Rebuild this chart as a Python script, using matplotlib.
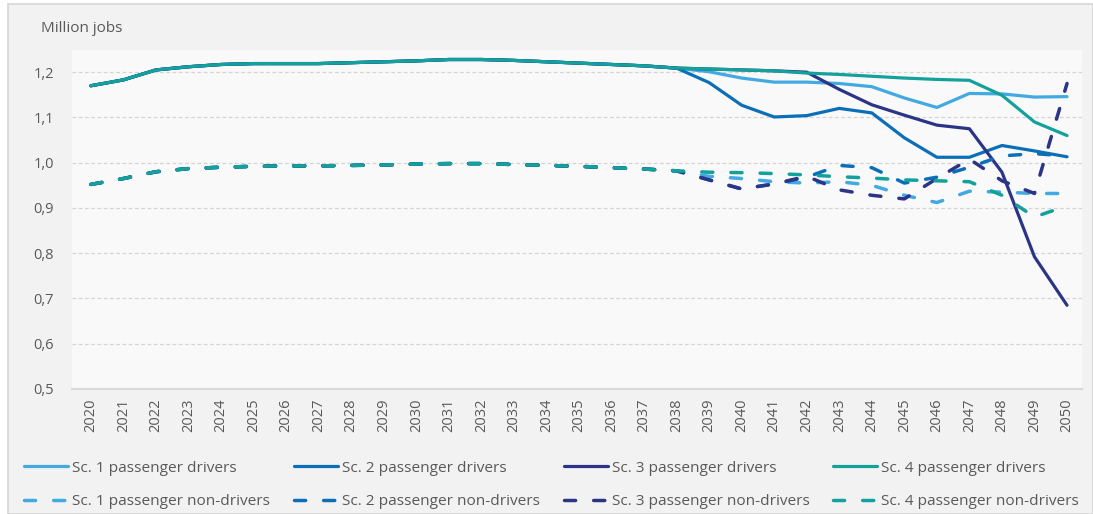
import numpy as np
import matplotlib.pyplot as plt
from matplotlib.patches import Rectangle

# ---------------------------
# Datos (millones de empleos)
# ---------------------------
years = list(range(2020, 2051))

# tramo comun 2020-2038
common_drivers = [1.170, 1.183, 1.205, 1.212, 1.217, 1.219, 1.219, 1.219, 1.221, 1.223,
                  1.225, 1.228, 1.228, 1.226, 1.223, 1.220, 1.217, 1.214, 1.209]
common_non = [0.952, 0.965, 0.980, 0.987, 0.990, 0.992, 0.993, 0.993, 0.994, 0.995,
              0.997, 0.998, 0.998, 0.996, 0.994, 0.992, 0.989, 0.986, 0.982]

# 2039-2050 por escenario
sc1_drivers = common_drivers + [1.201, 1.187, 1.178, 1.178, 1.175, 1.168, 1.143, 1.122, 1.153, 1.152, 1.145, 1.146]
sc2_drivers = common_drivers + [1.177, 1.127, 1.101, 1.104, 1.120, 1.110, 1.055, 1.012, 1.012, 1.038, 1.026, 1.013]
sc3_drivers = common_drivers + [1.207, 1.205, 1.203, 1.200, 1.162, 1.128, 1.105, 1.083, 1.075, 0.979, 0.792, 0.685]
sc4_drivers = common_drivers + [1.207, 1.205, 1.203, 1.198, 1.195, 1.191, 1.187, 1.184, 1.182, 1.149, 1.090, 1.060]

sc1_non = common_non + [0.970, 0.965, 0.958, 0.955, 0.958, 0.950, 0.928, 0.912, 0.937, 0.935, 0.932, 0.932]
sc2_non = common_non + [0.962, 0.942, 0.953, 0.968, 0.994, 0.989, 0.955, 0.968, 0.990, 1.015, 1.020, 1.015]
sc3_non = common_non + [0.962, 0.942, 0.953, 0.970, 0.940, 0.928, 0.920, 0.965, 1.008, 0.960, 0.932, 1.175]
sc4_non = common_non + [0.979, 0.978, 0.976, 0.973, 0.969, 0.966, 0.962, 0.960, 0.958, 0.928, 0.880, 0.905]

labels_drivers = ["Sc. 1 passenger drivers", "Sc. 2 passenger drivers",
                  "Sc. 3 passenger drivers", "Sc. 4 passenger drivers"]
labels_non = ["Sc. 1 passenger non-drivers", "Sc. 2 passenger non-drivers",
              "Sc. 3 passenger non-drivers", "Sc. 4 passenger non-drivers"]
colors = ["#42a9e1", "#0b6fb8", "#2b3486", "#13a19b"]

# ---------------------------
# Figura
# ---------------------------
plt.rcParams['font.family'] = ['Open Sans', 'DejaVu Sans']
W, H = 1093, 514
fig = plt.figure(figsize=(W / 100, H / 100), dpi=100)
fig.patch.set_facecolor("white")
fig.patches.append(Rectangle((8 / W, 0), 1 - 8 / W, 1 - 4 / H, transform=fig.transFigure,
                             facecolor="#f2f2f2", edgecolor="#d6d6d6", lw=1.2, zorder=-10))

ax = fig.add_axes([72 / W, 1 - 389 / H, (1082 - 72) / W, (389 - 50) / H])
ax.set_facecolor("#f9f9f9")

lines_d = []
lines_n = []
for data, lab, c in zip([sc1_drivers, sc2_drivers, sc3_drivers, sc4_drivers], labels_drivers, colors):
    l, = ax.plot(years, data, color=c, lw=2.3, label=lab, solid_capstyle="round")
    lines_d.append(l)
for data, lab, c in zip([sc1_non, sc2_non, sc3_non, sc4_non], labels_non, colors):
    l, = ax.plot(years, data, color=c, lw=2.5, label=lab, linestyle=(0, (3.2, 5.2)),
                 dash_capstyle="round")
    lines_n.append(l)

ax.set_xlim(2019.42, 2050.46)
ax.set_ylim(0.5, 1.249)
ax.set_yticks(np.arange(0.5, 1.21, 0.1))
ax.set_yticklabels([f"{v:.1f}".replace(".", ",") for v in np.arange(0.5, 1.21, 0.1)])
ax.set_xticks(years)
ax.set_xticklabels([str(y) for y in years], rotation=90)
ax.tick_params(axis="y", length=0, pad=13, labelsize=10.5, labelcolor="#595959")
ax.tick_params(axis="x", length=0, pad=7, labelsize=10.5, labelcolor="#595959")

for v in np.arange(0.6, 1.21, 0.1):
    ax.axhline(v, color="#d4d4d4", lw=0.9, linestyle=(0, (3, 2)), zorder=0)
for s in ["top", "right", "left"]:
    ax.spines[s].set_visible(False)
ax.spines["bottom"].set_color("#d9d9d9")
ax.spines["bottom"].set_linewidth(1.5)

fig.text(41 / W, 1 - 29 / H, "Million jobs", fontsize=11, color="#595959", va="center", ha="left")

# leyenda: fila 1 conductores, fila 2 no conductores
handles = []
for ld, ln in zip(lines_d, lines_n):
    handles += [ld, ln]
fig.legend(handles=handles, labels=[h.get_label() for h in handles], ncol=4,
           loc="center left", bbox_to_anchor=(24 / W, 1 - 485 / H), frameon=False,
           fontsize=11.1, labelcolor="#595959", handlelength=2.85, handletextpad=0.26,
           columnspacing=1.55, labelspacing=1.23, borderpad=0, borderaxespad=0)

fig.savefig("out.png", dpi=100, facecolor=fig.get_facecolor())
